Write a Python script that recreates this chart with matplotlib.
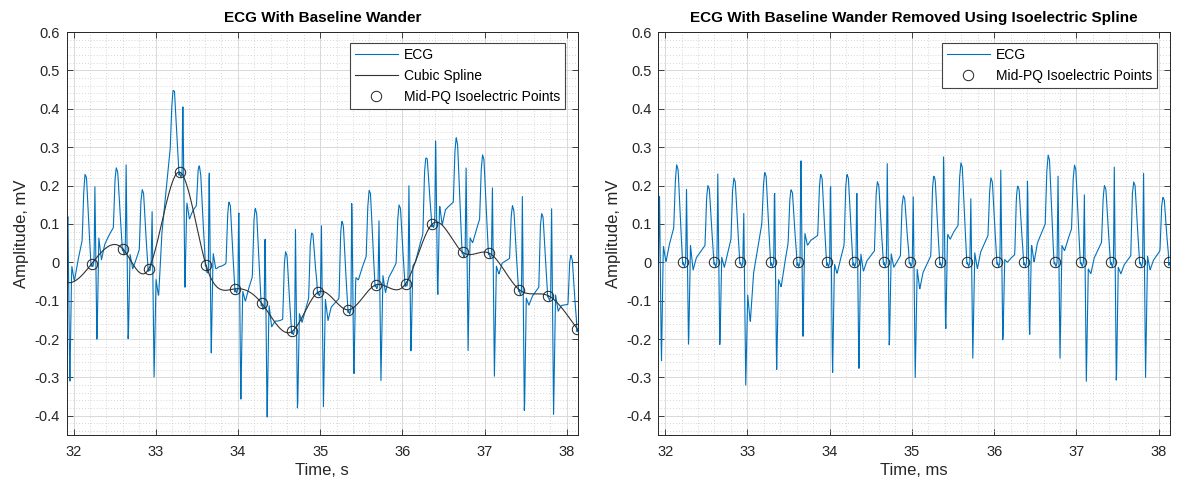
import numpy as np
import matplotlib
matplotlib.use("Agg")
import matplotlib.pyplot as plt
from matplotlib.ticker import MultipleLocator, FixedLocator, FuncFormatter

# ---------------- data ----------------
# mid-PQ isoelectric points (time, s) and baseline (spline knot) values, mV
iso_t = [32.22, 32.60, 32.915, 33.29, 33.61, 33.97, 34.29, 34.66, 34.975,
         35.345, 35.675, 36.04, 36.365, 36.735, 37.055, 37.42, 37.775, 38.13]
iso_v = [-0.004, 0.035, -0.017, 0.235, -0.006, -0.069, -0.107, -0.18, -0.078,
         -0.124, -0.059, -0.056, 0.10, 0.026, 0.024, -0.071, -0.087, -0.174]
# isoelectric knots just outside the plotted window (spline continues through them)
outer_t = [31.89, 38.48]
outer_v = [-0.05, -0.22]

# beat onsets (one partial beat before the first isoelectric point)
beat_t = [31.89] + iso_t
# per-beat amplitudes of the baseline-corrected ECG, mV
r_amp = [0.21, 0.19, 0.23, 0.146, 0.22, 0.305, 0.24, 0.22, 0.257, 0.19,
         0.305, 0.183, 0.24, 0.235, 0.244, 0.196, 0.248, 0.254, 0.20]
s_amp = [-0.27, -0.23, -0.233, -0.32, -0.29, -0.205, -0.30, -0.29, -0.235, -0.30,
         -0.196, -0.25, -0.22, -0.21, -0.25, -0.31, -0.33, -0.30, -0.25]
post_s = [0.044, 0.044, 0.013, -0.083, -0.044, 0.077, -0.004, 0.024, 0.022, -0.017,
          0.074, 0.026, 0.007, 0.048, 0.044, -0.017, -0.013, 0.017, 0.02]
st_dip = [0.0, -0.02, -0.013, -0.157, -0.065, 0.044, -0.03, -0.024, -0.013, -0.07,
          0.06, -0.017, 0.0, 0.0, 0.03, -0.03, -0.03, -0.02, 0.0]
plateau = [0.09, 0.044, 0.06, 0.10, 0.05, 0.07, 0.044, 0.03, 0.017, 0.017,
           0.096, 0.07, 0.02, 0.10, 0.087, 0.052, 0.017, 0.03, 0.05]
t_amp = [0.254, 0.20, 0.22, 0.235, 0.19, 0.23, 0.23, 0.21, 0.174, 0.226,
         0.26, 0.22, 0.20, 0.28, 0.254, 0.20, 0.21, 0.17, 0.0]

x_limits = (31.917, 38.137)
y_limits = (-0.45, 0.6)

# ---------------- helpers ----------------
def spline_not_a_knot(x, y, xq):
    x = np.asarray(x, float); y = np.asarray(y, float); xq = np.asarray(xq, float)
    n = len(x); h = np.diff(x)
    A = np.zeros((n, n)); r = np.zeros(n)
    A[0, 0] = h[1]; A[0, 1] = -(h[0] + h[1]); A[0, 2] = h[0]
    for i in range(1, n - 1):
        A[i, i - 1] = h[i - 1]; A[i, i] = 2 * (h[i - 1] + h[i]); A[i, i + 1] = h[i]
        r[i] = 6 * ((y[i + 1] - y[i]) / h[i] - (y[i] - y[i - 1]) / h[i - 1])
    A[-1, -3] = h[-1]; A[-1, -2] = -(h[-2] + h[-1]); A[-1, -1] = h[-2]
    M = np.linalg.solve(A, r)
    idx = np.clip(np.searchsorted(x, xq) - 1, 0, n - 2)
    t = xq - x[idx]; hi = h[idx]
    b = (y[idx + 1] - y[idx]) / hi - hi * (2 * M[idx] + M[idx + 1]) / 6
    return y[idx] + b * t + M[idx] / 2 * t ** 2 + (M[idx + 1] - M[idx]) / (6 * hi) * t ** 3


def build_ecg(tq):
    kx, ky = [], []
    n = len(beat_t)
    for k in range(n):
        c = beat_t[k]
        D = beat_t[k + 1] - c if k + 1 < n else 0.36
        R, S, P1, Dp, P2, T = r_amp[k], s_amp[k], post_s[k], st_dip[k], plateau[k], t_amp[k]
        pts = [(0.0, 0.0), (0.015, -0.012), (0.03, 0.0), (0.04, R), (0.065, S),
               (0.088, P1), (0.12, Dp), (0.16, 0.5 * (Dp + P2)),
               (D - 0.115, P2), (D - 0.095, 0.85 * T), (D - 0.08, T),
               (D - 0.062, 0.95 * T), (D - 0.035, 0.45 * T),
               (D - 0.015, 0.03), (D - 0.006, -0.008)]
        for dx, v in pts:
            kx.append(c + dx); ky.append(v)
    kx = np.array(kx); ky = np.array(ky)
    o = np.argsort(kx, kind="stable")
    return np.interp(tq, kx[o], ky[o])


t = np.arange(x_limits[0] - 0.001, x_limits[1] + 0.002, 0.004)
ecg_clean = build_ecg(t)
knot_t = [outer_t[0]] + iso_t + [outer_t[1]]
knot_v = [outer_v[0]] + iso_v + [outer_v[1]]
baseline = spline_not_a_knot(knot_t, knot_v, t)
ecg_raw = ecg_clean + baseline

# ---------------- styling ----------------
plt.rcParams["font.family"] = ["Liberation Sans", "DejaVu Sans"]
axcol = "#262626"
blue = "#0072BD"

fig = plt.figure(figsize=(11.78, 4.87), dpi=100)
W, H = 1178, 487
ax1 = fig.add_axes([66.7 / W, (H - 435) / H, 511.3 / W, 403 / H])
ax2 = fig.add_axes([658.3 / W, (H - 435) / H, 511.7 / W, 403 / H])


def style(ax, title, xlabel):
    ax.set_xlim(*x_limits)
    ax.set_ylim(*y_limits)
    ax.xaxis.set_major_locator(MultipleLocator(1))
    ax.xaxis.set_minor_locator(MultipleLocator(0.2))
    ax.yaxis.set_major_locator(FixedLocator(np.round(np.arange(-0.4, 0.61, 0.1), 2)))
    ax.yaxis.set_minor_locator(MultipleLocator(0.02))
    ax.yaxis.set_major_formatter(FuncFormatter(lambda v, p: "0" if abs(v) < 1e-9 else f"{v:g}"))
    ax.grid(True, which="major", color="#d9d9d9", linewidth=0.7, linestyle="-")
    ax.grid(True, which="minor", color="#c8c8c8", linewidth=0.6, linestyle=(0, (1, 2.5)))
    ax.set_axisbelow(True)
    ax.tick_params(which="major", direction="in", length=4, width=0.6, colors=axcol,
                   labelsize=10.5, top=True, right=True, pad=5)
    ax.tick_params(axis="x", which="major", pad=7)
    ax.tick_params(which="minor", length=0)
    for sp in ax.spines.values():
        sp.set_color(axcol); sp.set_linewidth(0.7)
    ax.set_title(title, fontsize=11, fontweight="bold", color="black", pad=7)
    ax.set_xlabel(xlabel, fontsize=12, color=axcol, labelpad=3)
    ax.set_ylabel("Amplitude, mV", fontsize=12, color=axcol, labelpad=4)


def legend(ax):
    leg = ax.legend(loc="upper right", bbox_to_anchor=(0.9746, 0.9727), fontsize=10,
                    frameon=True, fancybox=False, edgecolor="#444444", framealpha=1,
                    handlelength=3.1, borderpad=0.35, labelspacing=0.5, handletextpad=0.45,
                    borderaxespad=0.0)
    leg.get_frame().set_linewidth(0.8)
    return leg


# left panel
ax1.plot(t, ecg_raw, color=blue, linewidth=0.8, label="ECG")
ax1.plot(t, baseline, color="#333333", linewidth=0.8, label="Cubic Spline")
ax1.plot(iso_t, iso_v, linestyle="none", marker="o", markersize=7.5, markerfacecolor="none",
         markeredgecolor="#222222", markeredgewidth=0.7, label="Mid-PQ Isoelectric Points")
style(ax1, "ECG With Baseline Wander", "Time, s")
legend(ax1)

# right panel
ax2.plot(t, ecg_clean, color=blue, linewidth=0.8, label="ECG")
ax2.plot(iso_t, np.zeros(len(iso_t)), linestyle="none", marker="o", markersize=7.5,
         markerfacecolor="none", markeredgecolor="#222222", markeredgewidth=0.7,
         label="Mid-PQ Isoelectric Points")
style(ax2, "ECG With Baseline Wander Removed Using Isoelectric Spline", "Time, ms")
legend(ax2)

fig.savefig("out.png", dpi=100, facecolor="white")
